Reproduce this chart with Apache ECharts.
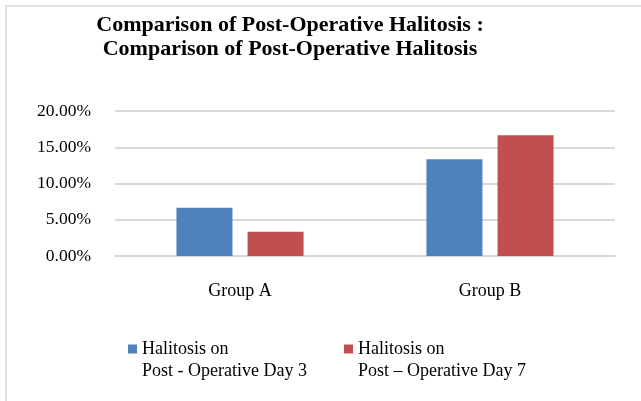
<!DOCTYPE html>
<html>
<head>
<meta charset="utf-8">
<script src="https://cdn.jsdelivr.net/npm/echarts@6/dist/echarts.min.js"></script>
<style>
  html, body { margin: 0; padding: 0; background: #fff; }
  #main { width: 641px; height: 401px; }
</style>
</head>
<body>
<div id="main"></div>
<script>
// data
var groups = ['Group A', 'Group B'];
var day3Name = 'Halitosis on\nPost - Operative Day 3';
var day7Name = 'Halitosis on\nPost \u2013 Operative Day 7';
var day3 = [6.67, 13.33];
var day7 = [3.33, 16.67];

var font = '"Liberation Serif", "Times New Roman", serif';

var myChart = echarts.init(document.getElementById('main'));

// legend text gets an empty first line so the icon sits on "Halitosis on"
function legendOpt(name, left) {
    return {
        data: [name],
        left: left,
        top: 316,
        padding: 0,
        itemWidth: 9,
        itemHeight: 9,
        icon: 'rect',
        formatter: function (n) { return ' \n' + n; },
        textStyle: { fontFamily: font, fontSize: 18, color: '#000', lineHeight: 22 }
    };
}

var option = {
    backgroundColor: '#fff',
    animation: false,
    title: {
        text: 'Comparison of Post-Operative Halitosis :\nComparison of Post-Operative Halitosis',
        left: 285,
        top: 8,
        textAlign: 'center',
        textStyle: {
            fontFamily: font,
            fontSize: 22,
            fontWeight: 'bold',
            color: '#000',
            lineHeight: 24
        }
    },
    graphic: [{
        type: 'rect',
        shape: { x: 6, y: 6, width: 700, height: 500 },
        style: { fill: 'none', stroke: '#d9d9d9', lineWidth: 1.5 },
        silent: true
    }],
    legend: [legendOpt(day3Name, 128), legendOpt(day7Name, 344)],
    grid: {
        left: 115,
        right: 26,
        top: 111,
        bottom: 145,
        containLabel: false
    },
    xAxis: {
        type: 'category',
        data: groups,
        axisLine: { show: true, lineStyle: { color: '#d9d9d9', width: 2 } },
        axisTick: { show: false },
        axisLabel: { fontFamily: font, fontSize: 18, color: '#000', margin: 26 }
    },
    yAxis: {
        type: 'value',
        min: 0,
        max: 20,
        interval: 5,
        axisLine: { show: false },
        axisTick: { show: false },
        splitLine: { lineStyle: { color: '#d9d9d9', width: 2 } },
        axisLabel: {
            fontFamily: font, fontSize: 17.5, color: '#000', margin: 24,
            formatter: function (v) { return v.toFixed(2) + '%'; }
        }
    },
    series: [{
        name: day3Name,
        type: 'bar',
        data: day3,
        barWidth: 56,
        barGap: '27%',
        itemStyle: { color: '#4f81bd' }
    }, {
        name: day7Name,
        type: 'bar',
        data: day7,
        barWidth: 56,
        itemStyle: { color: '#c0504d' }
    }]
};

myChart.setOption(option);
</script>
</body>
</html>
